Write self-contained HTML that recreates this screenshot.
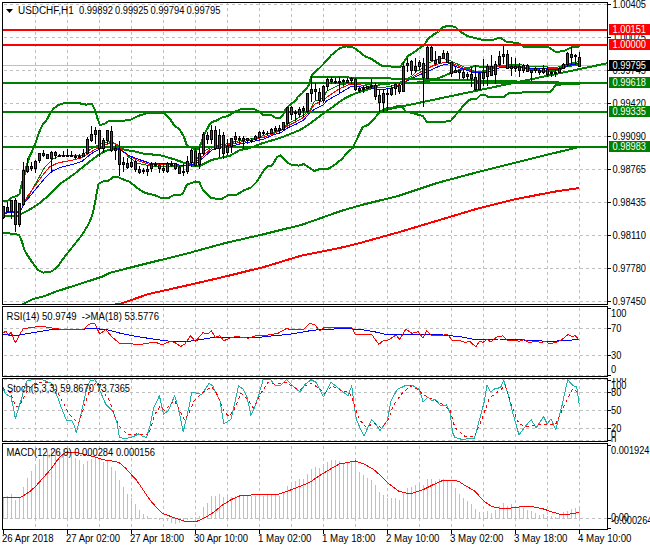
<!DOCTYPE html>
<html><head><meta charset="utf-8"><style>
html,body{margin:0;padding:0;background:#fff;width:650px;height:550px;overflow:hidden}
svg{display:block}
</style></head><body>
<svg width="650" height="550" viewBox="0 0 650 550"><g shape-rendering="crispEdges">
<line x1="35.5" y1="3" x2="35.5" y2="304" stroke="#c0c0c0" stroke-width="1" stroke-dasharray="3 3" stroke-dashoffset="1"/>
<line x1="67.5" y1="3" x2="67.5" y2="304" stroke="#c0c0c0" stroke-width="1" stroke-dasharray="3 3" stroke-dashoffset="1"/>
<line x1="99.5" y1="3" x2="99.5" y2="304" stroke="#c0c0c0" stroke-width="1" stroke-dasharray="3 3" stroke-dashoffset="1"/>
<line x1="131.5" y1="3" x2="131.5" y2="304" stroke="#c0c0c0" stroke-width="1" stroke-dasharray="3 3" stroke-dashoffset="1"/>
<line x1="163.5" y1="3" x2="163.5" y2="304" stroke="#c0c0c0" stroke-width="1" stroke-dasharray="3 3" stroke-dashoffset="1"/>
<line x1="195.5" y1="3" x2="195.5" y2="304" stroke="#c0c0c0" stroke-width="1" stroke-dasharray="3 3" stroke-dashoffset="1"/>
<line x1="227.5" y1="3" x2="227.5" y2="304" stroke="#c0c0c0" stroke-width="1" stroke-dasharray="3 3" stroke-dashoffset="1"/>
<line x1="259.5" y1="3" x2="259.5" y2="304" stroke="#c0c0c0" stroke-width="1" stroke-dasharray="3 3" stroke-dashoffset="1"/>
<line x1="291.5" y1="3" x2="291.5" y2="304" stroke="#c0c0c0" stroke-width="1" stroke-dasharray="3 3" stroke-dashoffset="1"/>
<line x1="323.5" y1="3" x2="323.5" y2="304" stroke="#c0c0c0" stroke-width="1" stroke-dasharray="3 3" stroke-dashoffset="1"/>
<line x1="355.5" y1="3" x2="355.5" y2="304" stroke="#c0c0c0" stroke-width="1" stroke-dasharray="3 3" stroke-dashoffset="1"/>
<line x1="387.5" y1="3" x2="387.5" y2="304" stroke="#c0c0c0" stroke-width="1" stroke-dasharray="3 3" stroke-dashoffset="1"/>
<line x1="419.5" y1="3" x2="419.5" y2="304" stroke="#c0c0c0" stroke-width="1" stroke-dasharray="3 3" stroke-dashoffset="1"/>
<line x1="451.5" y1="3" x2="451.5" y2="304" stroke="#c0c0c0" stroke-width="1" stroke-dasharray="3 3" stroke-dashoffset="1"/>
<line x1="483.5" y1="3" x2="483.5" y2="304" stroke="#c0c0c0" stroke-width="1" stroke-dasharray="3 3" stroke-dashoffset="1"/>
<line x1="515.5" y1="3" x2="515.5" y2="304" stroke="#c0c0c0" stroke-width="1" stroke-dasharray="3 3" stroke-dashoffset="1"/>
<line x1="547.5" y1="3" x2="547.5" y2="304" stroke="#c0c0c0" stroke-width="1" stroke-dasharray="3 3" stroke-dashoffset="1"/>
<line x1="579.5" y1="3" x2="579.5" y2="304" stroke="#c0c0c0" stroke-width="1" stroke-dasharray="3 3" stroke-dashoffset="1"/>
<line x1="35.5" y1="307" x2="35.5" y2="376" stroke="#c0c0c0" stroke-width="1" stroke-dasharray="3 3" stroke-dashoffset="5"/>
<line x1="67.5" y1="307" x2="67.5" y2="376" stroke="#c0c0c0" stroke-width="1" stroke-dasharray="3 3" stroke-dashoffset="5"/>
<line x1="99.5" y1="307" x2="99.5" y2="376" stroke="#c0c0c0" stroke-width="1" stroke-dasharray="3 3" stroke-dashoffset="5"/>
<line x1="131.5" y1="307" x2="131.5" y2="376" stroke="#c0c0c0" stroke-width="1" stroke-dasharray="3 3" stroke-dashoffset="5"/>
<line x1="163.5" y1="307" x2="163.5" y2="376" stroke="#c0c0c0" stroke-width="1" stroke-dasharray="3 3" stroke-dashoffset="5"/>
<line x1="195.5" y1="307" x2="195.5" y2="376" stroke="#c0c0c0" stroke-width="1" stroke-dasharray="3 3" stroke-dashoffset="5"/>
<line x1="227.5" y1="307" x2="227.5" y2="376" stroke="#c0c0c0" stroke-width="1" stroke-dasharray="3 3" stroke-dashoffset="5"/>
<line x1="259.5" y1="307" x2="259.5" y2="376" stroke="#c0c0c0" stroke-width="1" stroke-dasharray="3 3" stroke-dashoffset="5"/>
<line x1="291.5" y1="307" x2="291.5" y2="376" stroke="#c0c0c0" stroke-width="1" stroke-dasharray="3 3" stroke-dashoffset="5"/>
<line x1="323.5" y1="307" x2="323.5" y2="376" stroke="#c0c0c0" stroke-width="1" stroke-dasharray="3 3" stroke-dashoffset="5"/>
<line x1="355.5" y1="307" x2="355.5" y2="376" stroke="#c0c0c0" stroke-width="1" stroke-dasharray="3 3" stroke-dashoffset="5"/>
<line x1="387.5" y1="307" x2="387.5" y2="376" stroke="#c0c0c0" stroke-width="1" stroke-dasharray="3 3" stroke-dashoffset="5"/>
<line x1="419.5" y1="307" x2="419.5" y2="376" stroke="#c0c0c0" stroke-width="1" stroke-dasharray="3 3" stroke-dashoffset="5"/>
<line x1="451.5" y1="307" x2="451.5" y2="376" stroke="#c0c0c0" stroke-width="1" stroke-dasharray="3 3" stroke-dashoffset="5"/>
<line x1="483.5" y1="307" x2="483.5" y2="376" stroke="#c0c0c0" stroke-width="1" stroke-dasharray="3 3" stroke-dashoffset="5"/>
<line x1="515.5" y1="307" x2="515.5" y2="376" stroke="#c0c0c0" stroke-width="1" stroke-dasharray="3 3" stroke-dashoffset="5"/>
<line x1="547.5" y1="307" x2="547.5" y2="376" stroke="#c0c0c0" stroke-width="1" stroke-dasharray="3 3" stroke-dashoffset="5"/>
<line x1="579.5" y1="307" x2="579.5" y2="376" stroke="#c0c0c0" stroke-width="1" stroke-dasharray="3 3" stroke-dashoffset="5"/>
<line x1="35.5" y1="379" x2="35.5" y2="441" stroke="#c0c0c0" stroke-width="1" stroke-dasharray="3 3" stroke-dashoffset="5"/>
<line x1="67.5" y1="379" x2="67.5" y2="441" stroke="#c0c0c0" stroke-width="1" stroke-dasharray="3 3" stroke-dashoffset="5"/>
<line x1="99.5" y1="379" x2="99.5" y2="441" stroke="#c0c0c0" stroke-width="1" stroke-dasharray="3 3" stroke-dashoffset="5"/>
<line x1="131.5" y1="379" x2="131.5" y2="441" stroke="#c0c0c0" stroke-width="1" stroke-dasharray="3 3" stroke-dashoffset="5"/>
<line x1="163.5" y1="379" x2="163.5" y2="441" stroke="#c0c0c0" stroke-width="1" stroke-dasharray="3 3" stroke-dashoffset="5"/>
<line x1="195.5" y1="379" x2="195.5" y2="441" stroke="#c0c0c0" stroke-width="1" stroke-dasharray="3 3" stroke-dashoffset="5"/>
<line x1="227.5" y1="379" x2="227.5" y2="441" stroke="#c0c0c0" stroke-width="1" stroke-dasharray="3 3" stroke-dashoffset="5"/>
<line x1="259.5" y1="379" x2="259.5" y2="441" stroke="#c0c0c0" stroke-width="1" stroke-dasharray="3 3" stroke-dashoffset="5"/>
<line x1="291.5" y1="379" x2="291.5" y2="441" stroke="#c0c0c0" stroke-width="1" stroke-dasharray="3 3" stroke-dashoffset="5"/>
<line x1="323.5" y1="379" x2="323.5" y2="441" stroke="#c0c0c0" stroke-width="1" stroke-dasharray="3 3" stroke-dashoffset="5"/>
<line x1="355.5" y1="379" x2="355.5" y2="441" stroke="#c0c0c0" stroke-width="1" stroke-dasharray="3 3" stroke-dashoffset="5"/>
<line x1="387.5" y1="379" x2="387.5" y2="441" stroke="#c0c0c0" stroke-width="1" stroke-dasharray="3 3" stroke-dashoffset="5"/>
<line x1="419.5" y1="379" x2="419.5" y2="441" stroke="#c0c0c0" stroke-width="1" stroke-dasharray="3 3" stroke-dashoffset="5"/>
<line x1="451.5" y1="379" x2="451.5" y2="441" stroke="#c0c0c0" stroke-width="1" stroke-dasharray="3 3" stroke-dashoffset="5"/>
<line x1="483.5" y1="379" x2="483.5" y2="441" stroke="#c0c0c0" stroke-width="1" stroke-dasharray="3 3" stroke-dashoffset="5"/>
<line x1="515.5" y1="379" x2="515.5" y2="441" stroke="#c0c0c0" stroke-width="1" stroke-dasharray="3 3" stroke-dashoffset="5"/>
<line x1="547.5" y1="379" x2="547.5" y2="441" stroke="#c0c0c0" stroke-width="1" stroke-dasharray="3 3" stroke-dashoffset="5"/>
<line x1="579.5" y1="379" x2="579.5" y2="441" stroke="#c0c0c0" stroke-width="1" stroke-dasharray="3 3" stroke-dashoffset="5"/>
<line x1="35.5" y1="444" x2="35.5" y2="529" stroke="#c0c0c0" stroke-width="1" stroke-dasharray="3 3" stroke-dashoffset="4"/>
<line x1="67.5" y1="444" x2="67.5" y2="529" stroke="#c0c0c0" stroke-width="1" stroke-dasharray="3 3" stroke-dashoffset="4"/>
<line x1="99.5" y1="444" x2="99.5" y2="529" stroke="#c0c0c0" stroke-width="1" stroke-dasharray="3 3" stroke-dashoffset="4"/>
<line x1="131.5" y1="444" x2="131.5" y2="529" stroke="#c0c0c0" stroke-width="1" stroke-dasharray="3 3" stroke-dashoffset="4"/>
<line x1="163.5" y1="444" x2="163.5" y2="529" stroke="#c0c0c0" stroke-width="1" stroke-dasharray="3 3" stroke-dashoffset="4"/>
<line x1="195.5" y1="444" x2="195.5" y2="529" stroke="#c0c0c0" stroke-width="1" stroke-dasharray="3 3" stroke-dashoffset="4"/>
<line x1="227.5" y1="444" x2="227.5" y2="529" stroke="#c0c0c0" stroke-width="1" stroke-dasharray="3 3" stroke-dashoffset="4"/>
<line x1="259.5" y1="444" x2="259.5" y2="529" stroke="#c0c0c0" stroke-width="1" stroke-dasharray="3 3" stroke-dashoffset="4"/>
<line x1="291.5" y1="444" x2="291.5" y2="529" stroke="#c0c0c0" stroke-width="1" stroke-dasharray="3 3" stroke-dashoffset="4"/>
<line x1="323.5" y1="444" x2="323.5" y2="529" stroke="#c0c0c0" stroke-width="1" stroke-dasharray="3 3" stroke-dashoffset="4"/>
<line x1="355.5" y1="444" x2="355.5" y2="529" stroke="#c0c0c0" stroke-width="1" stroke-dasharray="3 3" stroke-dashoffset="4"/>
<line x1="387.5" y1="444" x2="387.5" y2="529" stroke="#c0c0c0" stroke-width="1" stroke-dasharray="3 3" stroke-dashoffset="4"/>
<line x1="419.5" y1="444" x2="419.5" y2="529" stroke="#c0c0c0" stroke-width="1" stroke-dasharray="3 3" stroke-dashoffset="4"/>
<line x1="451.5" y1="444" x2="451.5" y2="529" stroke="#c0c0c0" stroke-width="1" stroke-dasharray="3 3" stroke-dashoffset="4"/>
<line x1="483.5" y1="444" x2="483.5" y2="529" stroke="#c0c0c0" stroke-width="1" stroke-dasharray="3 3" stroke-dashoffset="4"/>
<line x1="515.5" y1="444" x2="515.5" y2="529" stroke="#c0c0c0" stroke-width="1" stroke-dasharray="3 3" stroke-dashoffset="4"/>
<line x1="547.5" y1="444" x2="547.5" y2="529" stroke="#c0c0c0" stroke-width="1" stroke-dasharray="3 3" stroke-dashoffset="4"/>
<line x1="579.5" y1="444" x2="579.5" y2="529" stroke="#c0c0c0" stroke-width="1" stroke-dasharray="3 3" stroke-dashoffset="4"/>
<line x1="4" y1="4.5" x2="607" y2="4.5" stroke="#c0c0c0" stroke-width="1" stroke-dasharray="3 3"/>
<line x1="4" y1="37.5" x2="607" y2="37.5" stroke="#c0c0c0" stroke-width="1" stroke-dasharray="3 3"/>
<line x1="4" y1="70.5" x2="607" y2="70.5" stroke="#c0c0c0" stroke-width="1" stroke-dasharray="3 3"/>
<line x1="4" y1="103.5" x2="607" y2="103.5" stroke="#c0c0c0" stroke-width="1" stroke-dasharray="3 3"/>
<line x1="4" y1="136.5" x2="607" y2="136.5" stroke="#c0c0c0" stroke-width="1" stroke-dasharray="3 3"/>
<line x1="4" y1="169.5" x2="607" y2="169.5" stroke="#c0c0c0" stroke-width="1" stroke-dasharray="3 3"/>
<line x1="4" y1="202.5" x2="607" y2="202.5" stroke="#c0c0c0" stroke-width="1" stroke-dasharray="3 3"/>
<line x1="4" y1="235.5" x2="607" y2="235.5" stroke="#c0c0c0" stroke-width="1" stroke-dasharray="3 3"/>
<line x1="4" y1="268.5" x2="607" y2="268.5" stroke="#c0c0c0" stroke-width="1" stroke-dasharray="3 3"/>
<line x1="4" y1="301.5" x2="607" y2="301.5" stroke="#c0c0c0" stroke-width="1" stroke-dasharray="3 3"/>
<line x1="4" y1="328.5" x2="607" y2="328.5" stroke="#c0c0c0" stroke-width="1" stroke-dasharray="3 3"/>
<line x1="4" y1="355.5" x2="607" y2="355.5" stroke="#c0c0c0" stroke-width="1" stroke-dasharray="3 3"/>
<line x1="4" y1="375.5" x2="607" y2="375.5" stroke="#c0c0c0" stroke-width="1" stroke-dasharray="3 3"/>
<line x1="4" y1="379.5" x2="607" y2="379.5" stroke="#c0c0c0" stroke-width="1" stroke-dasharray="3 3"/>
<line x1="4" y1="392.5" x2="607" y2="392.5" stroke="#c0c0c0" stroke-width="1" stroke-dasharray="3 3"/>
<line x1="4" y1="410.5" x2="607" y2="410.5" stroke="#c0c0c0" stroke-width="1" stroke-dasharray="3 3"/>
<line x1="4" y1="428.5" x2="607" y2="428.5" stroke="#c0c0c0" stroke-width="1" stroke-dasharray="3 3"/>
<line x1="4" y1="440.5" x2="607" y2="440.5" stroke="#c0c0c0" stroke-width="1" stroke-dasharray="3 3"/>
<line x1="4" y1="518.5" x2="607" y2="518.5" stroke="#c0c0c0" stroke-width="1" stroke-dasharray="3 3"/>
</g>
<defs><clipPath id="cmain"><rect x="3" y="3" width="604" height="301"/></clipPath></defs><g clip-path="url(#cmain)">
<g shape-rendering="crispEdges">
<rect x="3" y="65" width="604" height="1" fill="#c0c0c0"/>
</g>
<g>
<polyline points="22,304.6 33,299 43.5,296.4 56,291.6 67,288 79.5,284 92,280 103,276.4 110,272.7 148.5,263 187,253.5 225.4,243 263.8,234.2 302.3,224.6 340.8,211 360,205.4 398.5,195.8 437,183 475.4,172.7 513.8,163 552.3,153.5 579.2,147" fill="none" stroke="#008000" stroke-width="2" stroke-linejoin="round" shape-rendering="crispEdges"/>
<polyline points="114,304.6 121.5,303.5 148.5,294 187,285.4 225.4,276.5 263.8,267 302.3,255.4 340.8,247.7 360,243 398.5,232.3 437,220.8 475.4,209.2 513.8,199.6 552.3,192 579.2,188" fill="none" stroke="#ff0000" stroke-width="2" stroke-linejoin="round" shape-rendering="crispEdges"/>
<polyline points="3,201 8,200.5 11,198 15,196.5 18.5,195 19.7,193.7 20.2,190.4 21.3,186 21.8,182.8 23.5,178.4 25.1,173 26.7,165.3 29.5,156.5 30.5,154.5 34.3,146.3 37,138.7 39.2,132.1 42.5,125 46.8,119.6 50.1,113.6 53.4,108.6 57.8,105.4 64.3,102.9 75,102.9 80,103.4 86,104.6 92,104 95,110 98,120 100,125 104,124 109,121 120,121 130,120 138,116 148,113 164,113 170,119 174,125 180,130 184,137 187,145.8 191.8,147.7 195,150 198,149 200.5,144.6 204,134.8 210,123.7 212.8,121.8 217.7,120 220.8,117.9 226.3,116.5 230,114.8 235,111.7 241,109.2 248.5,108.6 254.6,109.2 259.5,111.7 263,114.8 271.8,115.4 275.5,117.8 280.5,117.8 283,115.4 285.4,109.8 289,105.5 294,101.8 296.5,100 297.4,97 302.3,93.2 308.5,85.8 311.5,76 314.6,72.3 319.5,68 323.8,63.7 327,60 331.4,55 340,48 346,46.4 352,47 356,49 362,54 366,57 370,58 376,62 382,66 400,67 403,63 408,56 416,51 420,47.7 424.6,44.6 427.7,39.2 432.3,35.4 438.5,31.5 443,27 449.2,25.8 455.4,27 460,31.5 467.7,36.2 473.8,37.7 481.5,39.7 492.3,40 500,37.7 506,41.5 512.3,42.3 520,43.8 524,47 548,47 556,52 564,51 572,47 580,46.4" fill="none" stroke="#008000" stroke-width="2" stroke-linejoin="round" shape-rendering="crispEdges"/>
<polyline points="3,232.8 9,232.8 11,234 15,234 19,235 21,239 23,245 24.5,250 26,253 32,262 38,270 43,272.6 52,271.4 58,266 66,255 74,245 82,235 88,225 90,220.8 93,213 98.5,183.8 104,181 108.5,180.8 113,177 117.7,177 122.3,179 130,182 136,187 143.8,192.3 148.5,193.8 154.6,195 162.3,198.5 168.5,198 174.6,194.6 180,195.4 183,193 187,184.6 191.5,183 195.4,181.5 199.2,182 203,190 210.8,197.7 217,199 221.5,199 227.7,195.4 237,194.6 244.6,190 250.8,187.7 257,181.5 263,171.5 267.7,166 272.3,165.4 277,157 280,155.4 281,155.6 288,163 292,165 299,165.6 304,164 314,171 320,169 328,169 336,164 342.3,158.5 347,153 353,147.7 355,143 362.7,127 368.8,124.6 375,117.7 380.4,111.5 385.8,108.5 392,107.7 398,106 401,106 405.8,111.5 415,113.8 422.7,116 427.3,122.3 435,122.3 440,122.3 450.8,120.8 458.5,111.5 467.7,100.8 472.3,98.5 477,98.5 480,95.4 486,95.4 489.2,97.4 503,97.4 508.5,93.4 520,93.4 524.6,91.5 540,91.5 551,91.5 556,84.8 565.7,84.2 580,84.2" fill="none" stroke="#008000" stroke-width="2" stroke-linejoin="round" shape-rendering="crispEdges"/>
<polyline points="3,215.5 19,215.5 20,214.7 31,208.8 40.2,202.6 51,193.4 60,184 73.9,174.3 87.7,163.2 97.4,155.6 105.7,150.8 112.6,149.4 119.6,148.7 126.5,150 134.8,151.5 143.1,153.5 150,154.2 162.3,155.7 174.6,159.4 184.5,163 190.6,165.5 199.2,166.2 204,163.7 211.5,160 219,158.2 230,155.7 240,150 250,148 260,144 280,138 300,130 308.5,124.6 320.8,115.4 333,106.8 343,99.4 351.5,95 359,92 370,89 380,84.5 390,83.5 404,82.5 417,82.5 430,80.5 439,78 450.8,73 460,70 469.2,67.7 473.8,66.2 486,67 500,66.2 512.3,65.4 520,66.5 530,70 545,70.8 555,70.5 561.4,69 565.2,66.7 569,65.7 574,65.4 579.8,65.4" fill="none" stroke="#008000" stroke-width="2" stroke-linejoin="round" shape-rendering="crispEdges"/>
<polyline points="23.2,204.2 29.4,195 37,181 44.8,167 52.6,159.4 60,155.6 82.2,155 90.5,149.4 98.8,144.5 108.5,141.8 115.4,143.2 119.6,147 129.2,157.7 137.6,163.2 150,166 154,167 170,166 184,166 194,162 204,151 214,146 232,143 233.7,141.8 254.6,138.2 273,132.6 281.7,129 287.8,124 296.5,119 304,114.8 310,109.8 314.6,101.2 323,98.2 327,90.8 339,85.2 349,83.4 355,82.8 370,84.6 380,88 392,86 404,80 411.5,76.3 416.5,71.2 420,70 429.2,63 437,59.2 443,58.5 450.8,60.8 457,63.8 466,67.7 475.4,71.5 484.6,70.8 497,66.2 512.3,64.6 520,64.6 530,66.5 548,67 556,68 563,65 574,62.2 579,61.9" fill="none" stroke="#008000" stroke-width="1" stroke-linejoin="round" shape-rendering="crispEdges"/>
<polyline points="3,213 10,211 19,211 21.6,208.8 26.3,198 34,187.2 41.7,176.4 49.5,167 58.7,162.5 60,162.5 73.9,159.8 82.2,157.7 90.5,152.2 98.8,147.3 108.5,143.9 115.4,143.9 119.6,148 129.2,156.3 137.6,160.5 150,164.6 164,164 180,166 192,165 204,155 212,148 224,146 233.7,143.7 244.8,141.2 254.6,139.4 264.5,137 273,133.8 281.7,130.2 287.8,125.8 296.5,121.5 304,117.2 310,111 314.6,104.3 323,100.6 327,97 339,89 349,84.6 355,84 370,86.5 380,90 392,88 404,82 412.7,77 420,72.3 429.2,67.7 435.4,64.6 444.6,62.3 449.2,62.3 457,65.4 466,69.2 475.4,72.3 484.6,71.5 497,67 506,66.2 520,66.2 530,68 548,68.3 556,69 563,66.5 571,64.1 579,63" fill="none" stroke="#ff0000" stroke-width="1" stroke-linejoin="round" shape-rendering="crispEdges"/>
<polyline points="3,214 10,212 19,212 20,212 24.7,202.6 31,195 38.6,185.6 46.4,176.4 52.6,171 60,167.4 73.9,164 82.2,161.2 90.5,154.2 98.8,149.4 108.5,146 115.4,146 119.6,149.4 129.2,155.6 137.6,159 150,163.2 160,163 174,164 184,166 196,164 204,157 212,150 220,148 232,145 233.7,145.5 244.8,143 254.6,141.2 264.5,138.8 273,135 281.7,132 287.8,127.7 296.5,124 304,119.7 310,112.3 314.6,109.2 323,105 327,100.6 339,93.8 350.3,87 355,86.5 370,87.7 380,90 392,88 404,84 407.6,80.7 412.7,78.2 420,74.6 429.2,70.8 435.4,67.7 444.6,64.6 449.2,63.8 457,67 466,70 475.4,73 484.6,72.3 492.3,71.5 500,67.7 506,67 520,67.7 530,68.8 548,69 556,70 563,67.5 567.7,66 572,64.5 579,63.5" fill="none" stroke="#0000ff" stroke-width="1" stroke-linejoin="round" shape-rendering="crispEdges"/>
</g>
<g shape-rendering="crispEdges">
<rect x="3" y="29" width="604" height="2" fill="#ff0000"/>
<rect x="3" y="44" width="604" height="2" fill="#ff0000"/>
<rect x="3" y="82" width="604" height="2" fill="#008000"/>
<rect x="3" y="111" width="604" height="2" fill="#008000"/>
<rect x="3" y="146" width="604" height="2" fill="#008000"/>
</g>
<polyline points="380,111 607,63.3" fill="none" stroke="#008000" stroke-width="2" stroke-linejoin="round" shape-rendering="crispEdges"/>
<polyline points="311,76.6 580,83" fill="none" stroke="#008000" stroke-width="2" stroke-linejoin="round" shape-rendering="crispEdges"/>
<g shape-rendering="crispEdges">
<rect x="3" y="206" width="1" height="13" fill="#000"/>
<rect x="2" y="206" width="3" height="12" fill="#000"/>
<rect x="3" y="207" width="1" height="10" fill="#008000"/>
<rect x="7" y="202" width="1" height="11" fill="#000"/>
<rect x="6" y="207" width="3" height="5" fill="#000"/>
<rect x="7" y="208" width="1" height="3" fill="#ff0000"/>
<rect x="11" y="200" width="1" height="19" fill="#000"/>
<rect x="10" y="200" width="3" height="12" fill="#000"/>
<rect x="11" y="201" width="1" height="10" fill="#008000"/>
<rect x="15" y="198" width="1" height="34" fill="#000"/>
<rect x="14" y="200" width="3" height="25" fill="#000"/>
<rect x="15" y="201" width="1" height="23" fill="#ff0000"/>
<rect x="19" y="203" width="1" height="24" fill="#000"/>
<rect x="18" y="203" width="3" height="22" fill="#000"/>
<rect x="19" y="204" width="1" height="20" fill="#008000"/>
<rect x="23" y="162" width="1" height="44" fill="#000"/>
<rect x="22" y="170" width="3" height="35" fill="#000"/>
<rect x="23" y="171" width="1" height="33" fill="#008000"/>
<rect x="27" y="158" width="1" height="15" fill="#000"/>
<rect x="26" y="166" width="3" height="6" fill="#000"/>
<rect x="27" y="167" width="1" height="4" fill="#008000"/>
<rect x="31" y="162" width="1" height="9" fill="#000"/>
<rect x="30" y="166" width="3" height="3" fill="#000"/>
<rect x="31" y="167" width="1" height="1" fill="#008000"/>
<rect x="35" y="160" width="1" height="13" fill="#000"/>
<rect x="34" y="161" width="3" height="8" fill="#000"/>
<rect x="35" y="162" width="1" height="6" fill="#008000"/>
<rect x="39" y="153" width="1" height="10" fill="#000"/>
<rect x="38" y="153" width="3" height="8" fill="#000"/>
<rect x="39" y="154" width="1" height="6" fill="#008000"/>
<rect x="43" y="150" width="1" height="7" fill="#000"/>
<rect x="42" y="153" width="3" height="3" fill="#000"/>
<rect x="43" y="154" width="1" height="1" fill="#008000"/>
<rect x="47" y="154" width="1" height="5" fill="#000"/>
<rect x="46" y="154" width="3" height="5" fill="#000"/>
<rect x="47" y="155" width="1" height="3" fill="#ff0000"/>
<rect x="51" y="151" width="1" height="22" fill="#000"/>
<rect x="50" y="152" width="3" height="7" fill="#000"/>
<rect x="51" y="153" width="1" height="5" fill="#008000"/>
<rect x="55" y="151" width="1" height="8" fill="#000"/>
<rect x="54" y="152" width="3" height="4" fill="#000"/>
<rect x="55" y="153" width="1" height="2" fill="#ff0000"/>
<rect x="59" y="154" width="1" height="3" fill="#000"/>
<rect x="58" y="155" width="3" height="2" fill="#000"/>
<rect x="63" y="151" width="1" height="6" fill="#000"/>
<rect x="62" y="155" width="3" height="2" fill="#000"/>
<rect x="67" y="149" width="1" height="8" fill="#000"/>
<rect x="66" y="155" width="3" height="2" fill="#000"/>
<rect x="71" y="151" width="1" height="6" fill="#000"/>
<rect x="70" y="155" width="3" height="2" fill="#000"/>
<rect x="75" y="154" width="1" height="5" fill="#000"/>
<rect x="74" y="156" width="3" height="2" fill="#000"/>
<rect x="79" y="154" width="1" height="5" fill="#000"/>
<rect x="78" y="156" width="3" height="2" fill="#000"/>
<rect x="83" y="149" width="1" height="8" fill="#000"/>
<rect x="82" y="153" width="3" height="4" fill="#000"/>
<rect x="83" y="154" width="1" height="2" fill="#008000"/>
<rect x="87" y="137" width="1" height="17" fill="#000"/>
<rect x="86" y="139" width="3" height="15" fill="#000"/>
<rect x="87" y="140" width="1" height="13" fill="#008000"/>
<rect x="91" y="126" width="1" height="16" fill="#000"/>
<rect x="90" y="134" width="3" height="7" fill="#000"/>
<rect x="91" y="135" width="1" height="5" fill="#008000"/>
<rect x="95" y="127" width="1" height="17" fill="#000"/>
<rect x="94" y="130" width="3" height="5" fill="#000"/>
<rect x="95" y="131" width="1" height="3" fill="#008000"/>
<rect x="99" y="130" width="1" height="27" fill="#000"/>
<rect x="98" y="130" width="3" height="19" fill="#000"/>
<rect x="99" y="131" width="1" height="17" fill="#ff0000"/>
<rect x="103" y="138" width="1" height="15" fill="#000"/>
<rect x="102" y="140" width="3" height="9" fill="#000"/>
<rect x="103" y="141" width="1" height="7" fill="#008000"/>
<rect x="107" y="130" width="1" height="14" fill="#000"/>
<rect x="106" y="130" width="3" height="11" fill="#000"/>
<rect x="107" y="131" width="1" height="9" fill="#008000"/>
<rect x="111" y="126" width="1" height="26" fill="#000"/>
<rect x="110" y="131" width="3" height="20" fill="#000"/>
<rect x="111" y="132" width="1" height="18" fill="#ff0000"/>
<rect x="115" y="145" width="1" height="15" fill="#000"/>
<rect x="114" y="148" width="3" height="3" fill="#000"/>
<rect x="115" y="149" width="1" height="1" fill="#008000"/>
<rect x="119" y="141" width="1" height="35" fill="#000"/>
<rect x="118" y="149" width="3" height="16" fill="#000"/>
<rect x="119" y="150" width="1" height="14" fill="#ff0000"/>
<rect x="123" y="157" width="1" height="15" fill="#000"/>
<rect x="122" y="162" width="3" height="3" fill="#000"/>
<rect x="123" y="163" width="1" height="1" fill="#008000"/>
<rect x="127" y="158" width="1" height="11" fill="#000"/>
<rect x="126" y="163" width="3" height="5" fill="#000"/>
<rect x="127" y="164" width="1" height="3" fill="#ff0000"/>
<rect x="131" y="156" width="1" height="12" fill="#000"/>
<rect x="130" y="162" width="3" height="5" fill="#000"/>
<rect x="131" y="163" width="1" height="3" fill="#008000"/>
<rect x="135" y="160" width="1" height="12" fill="#000"/>
<rect x="134" y="161" width="3" height="9" fill="#000"/>
<rect x="135" y="162" width="1" height="7" fill="#ff0000"/>
<rect x="139" y="166" width="1" height="8" fill="#000"/>
<rect x="138" y="169" width="3" height="4" fill="#000"/>
<rect x="139" y="170" width="1" height="2" fill="#ff0000"/>
<rect x="143" y="168" width="1" height="6" fill="#000"/>
<rect x="142" y="170" width="3" height="2" fill="#000"/>
<rect x="147" y="165" width="1" height="11" fill="#000"/>
<rect x="146" y="169" width="3" height="3" fill="#000"/>
<rect x="147" y="170" width="1" height="1" fill="#008000"/>
<rect x="151" y="162" width="1" height="10" fill="#000"/>
<rect x="150" y="164" width="3" height="5" fill="#000"/>
<rect x="151" y="165" width="1" height="3" fill="#008000"/>
<rect x="155" y="162" width="1" height="5" fill="#000"/>
<rect x="154" y="164" width="3" height="2" fill="#000"/>
<rect x="159" y="163" width="1" height="10" fill="#000"/>
<rect x="158" y="165" width="3" height="4" fill="#000"/>
<rect x="159" y="166" width="1" height="2" fill="#ff0000"/>
<rect x="163" y="163" width="1" height="10" fill="#000"/>
<rect x="162" y="168" width="3" height="3" fill="#000"/>
<rect x="163" y="169" width="1" height="1" fill="#008000"/>
<rect x="167" y="162" width="1" height="11" fill="#000"/>
<rect x="166" y="163" width="3" height="9" fill="#000"/>
<rect x="167" y="164" width="1" height="7" fill="#008000"/>
<rect x="171" y="161" width="1" height="6" fill="#000"/>
<rect x="170" y="164" width="3" height="2" fill="#000"/>
<rect x="175" y="163" width="1" height="7" fill="#000"/>
<rect x="174" y="163" width="3" height="6" fill="#000"/>
<rect x="175" y="164" width="1" height="4" fill="#ff0000"/>
<rect x="179" y="166" width="1" height="8" fill="#000"/>
<rect x="178" y="167" width="3" height="7" fill="#000"/>
<rect x="179" y="168" width="1" height="5" fill="#ff0000"/>
<rect x="183" y="164" width="1" height="12" fill="#000"/>
<rect x="182" y="171" width="3" height="2" fill="#000"/>
<rect x="187" y="156" width="1" height="18" fill="#000"/>
<rect x="186" y="161" width="3" height="11" fill="#000"/>
<rect x="187" y="162" width="1" height="9" fill="#008000"/>
<rect x="191" y="149" width="1" height="18" fill="#000"/>
<rect x="190" y="150" width="3" height="13" fill="#000"/>
<rect x="191" y="151" width="1" height="11" fill="#008000"/>
<rect x="195" y="148" width="1" height="19" fill="#000"/>
<rect x="194" y="151" width="3" height="15" fill="#000"/>
<rect x="195" y="152" width="1" height="13" fill="#ff0000"/>
<rect x="199" y="147" width="1" height="22" fill="#000"/>
<rect x="198" y="153" width="3" height="12" fill="#000"/>
<rect x="199" y="154" width="1" height="10" fill="#008000"/>
<rect x="203" y="132" width="1" height="24" fill="#000"/>
<rect x="202" y="134" width="3" height="20" fill="#000"/>
<rect x="203" y="135" width="1" height="18" fill="#008000"/>
<rect x="207" y="132" width="1" height="12" fill="#000"/>
<rect x="206" y="135" width="3" height="5" fill="#000"/>
<rect x="207" y="136" width="1" height="3" fill="#ff0000"/>
<rect x="211" y="125" width="1" height="19" fill="#000"/>
<rect x="210" y="130" width="3" height="10" fill="#000"/>
<rect x="211" y="131" width="1" height="8" fill="#008000"/>
<rect x="215" y="126" width="1" height="24" fill="#000"/>
<rect x="214" y="130" width="3" height="19" fill="#000"/>
<rect x="215" y="131" width="1" height="17" fill="#ff0000"/>
<rect x="219" y="129" width="1" height="28" fill="#000"/>
<rect x="218" y="135" width="3" height="14" fill="#000"/>
<rect x="219" y="136" width="1" height="12" fill="#008000"/>
<rect x="223" y="132" width="1" height="27" fill="#000"/>
<rect x="222" y="135" width="3" height="19" fill="#000"/>
<rect x="223" y="136" width="1" height="17" fill="#ff0000"/>
<rect x="227" y="139" width="1" height="16" fill="#000"/>
<rect x="226" y="146" width="3" height="7" fill="#000"/>
<rect x="227" y="147" width="1" height="5" fill="#008000"/>
<rect x="231" y="138" width="1" height="15" fill="#000"/>
<rect x="230" y="138" width="3" height="9" fill="#000"/>
<rect x="231" y="139" width="1" height="7" fill="#008000"/>
<rect x="235" y="132" width="1" height="12" fill="#000"/>
<rect x="234" y="136" width="3" height="4" fill="#000"/>
<rect x="235" y="137" width="1" height="2" fill="#008000"/>
<rect x="239" y="136" width="1" height="8" fill="#000"/>
<rect x="238" y="138" width="3" height="2" fill="#000"/>
<rect x="243" y="136" width="1" height="13" fill="#000"/>
<rect x="242" y="138" width="3" height="3" fill="#000"/>
<rect x="243" y="139" width="1" height="1" fill="#ff0000"/>
<rect x="247" y="138" width="1" height="6" fill="#000"/>
<rect x="246" y="138" width="3" height="3" fill="#000"/>
<rect x="247" y="139" width="1" height="1" fill="#008000"/>
<rect x="251" y="138" width="1" height="5" fill="#000"/>
<rect x="250" y="140" width="3" height="2" fill="#000"/>
<rect x="255" y="135" width="1" height="6" fill="#000"/>
<rect x="254" y="136" width="3" height="4" fill="#000"/>
<rect x="255" y="137" width="1" height="2" fill="#008000"/>
<rect x="259" y="131" width="1" height="7" fill="#000"/>
<rect x="258" y="132" width="3" height="6" fill="#000"/>
<rect x="259" y="133" width="1" height="4" fill="#008000"/>
<rect x="263" y="130" width="1" height="5" fill="#000"/>
<rect x="262" y="132" width="3" height="2" fill="#000"/>
<rect x="267" y="131" width="1" height="5" fill="#000"/>
<rect x="266" y="133" width="3" height="1" fill="#000"/>
<rect x="271" y="128" width="1" height="6" fill="#000"/>
<rect x="270" y="129" width="3" height="5" fill="#000"/>
<rect x="271" y="130" width="1" height="3" fill="#008000"/>
<rect x="275" y="126" width="1" height="6" fill="#000"/>
<rect x="274" y="128" width="3" height="3" fill="#000"/>
<rect x="275" y="129" width="1" height="1" fill="#008000"/>
<rect x="279" y="125" width="1" height="9" fill="#000"/>
<rect x="278" y="128" width="3" height="3" fill="#000"/>
<rect x="279" y="129" width="1" height="1" fill="#008000"/>
<rect x="283" y="122" width="1" height="9" fill="#000"/>
<rect x="282" y="122" width="3" height="8" fill="#000"/>
<rect x="283" y="123" width="1" height="6" fill="#008000"/>
<rect x="287" y="107" width="1" height="18" fill="#000"/>
<rect x="286" y="107" width="3" height="17" fill="#000"/>
<rect x="287" y="108" width="1" height="15" fill="#008000"/>
<rect x="291" y="106" width="1" height="14" fill="#000"/>
<rect x="290" y="107" width="3" height="8" fill="#000"/>
<rect x="291" y="108" width="1" height="6" fill="#ff0000"/>
<rect x="295" y="110" width="1" height="11" fill="#000"/>
<rect x="294" y="112" width="3" height="2" fill="#000"/>
<rect x="299" y="107" width="1" height="10" fill="#000"/>
<rect x="298" y="109" width="3" height="6" fill="#000"/>
<rect x="299" y="110" width="1" height="4" fill="#008000"/>
<rect x="303" y="106" width="1" height="11" fill="#000"/>
<rect x="302" y="108" width="3" height="3" fill="#000"/>
<rect x="303" y="109" width="1" height="1" fill="#008000"/>
<rect x="307" y="93" width="1" height="20" fill="#000"/>
<rect x="306" y="93" width="3" height="19" fill="#000"/>
<rect x="307" y="94" width="1" height="17" fill="#008000"/>
<rect x="311" y="76" width="1" height="26" fill="#000"/>
<rect x="310" y="89" width="3" height="5" fill="#000"/>
<rect x="311" y="90" width="1" height="3" fill="#008000"/>
<rect x="315" y="83" width="1" height="17" fill="#000"/>
<rect x="314" y="89" width="3" height="3" fill="#000"/>
<rect x="315" y="90" width="1" height="1" fill="#ff0000"/>
<rect x="319" y="88" width="1" height="17" fill="#000"/>
<rect x="318" y="92" width="3" height="9" fill="#000"/>
<rect x="319" y="93" width="1" height="7" fill="#ff0000"/>
<rect x="323" y="85" width="1" height="18" fill="#000"/>
<rect x="322" y="86" width="3" height="15" fill="#000"/>
<rect x="323" y="87" width="1" height="13" fill="#008000"/>
<rect x="327" y="78" width="1" height="13" fill="#000"/>
<rect x="326" y="79" width="3" height="8" fill="#000"/>
<rect x="327" y="80" width="1" height="6" fill="#008000"/>
<rect x="331" y="77" width="1" height="7" fill="#000"/>
<rect x="330" y="79" width="3" height="3" fill="#000"/>
<rect x="331" y="80" width="1" height="1" fill="#ff0000"/>
<rect x="335" y="78" width="1" height="6" fill="#000"/>
<rect x="334" y="81" width="3" height="2" fill="#000"/>
<rect x="339" y="77" width="1" height="17" fill="#000"/>
<rect x="338" y="81" width="3" height="2" fill="#000"/>
<rect x="343" y="79" width="1" height="7" fill="#000"/>
<rect x="342" y="80" width="3" height="2" fill="#000"/>
<rect x="347" y="78" width="1" height="5" fill="#000"/>
<rect x="346" y="80" width="3" height="3" fill="#000"/>
<rect x="347" y="81" width="1" height="1" fill="#008000"/>
<rect x="351" y="77" width="1" height="7" fill="#000"/>
<rect x="350" y="78" width="3" height="3" fill="#000"/>
<rect x="351" y="79" width="1" height="1" fill="#008000"/>
<rect x="355" y="78" width="1" height="13" fill="#000"/>
<rect x="354" y="79" width="3" height="11" fill="#000"/>
<rect x="355" y="80" width="1" height="9" fill="#ff0000"/>
<rect x="359" y="87" width="1" height="6" fill="#000"/>
<rect x="358" y="88" width="3" height="3" fill="#000"/>
<rect x="359" y="89" width="1" height="1" fill="#008000"/>
<rect x="363" y="86" width="1" height="7" fill="#000"/>
<rect x="362" y="88" width="3" height="2" fill="#000"/>
<rect x="367" y="86" width="1" height="3" fill="#000"/>
<rect x="366" y="86" width="3" height="3" fill="#000"/>
<rect x="367" y="87" width="1" height="1" fill="#008000"/>
<rect x="371" y="79" width="1" height="10" fill="#000"/>
<rect x="370" y="85" width="3" height="2" fill="#000"/>
<rect x="375" y="83" width="1" height="17" fill="#000"/>
<rect x="374" y="85" width="3" height="12" fill="#000"/>
<rect x="375" y="86" width="1" height="10" fill="#ff0000"/>
<rect x="379" y="90" width="1" height="22" fill="#000"/>
<rect x="378" y="95" width="3" height="8" fill="#000"/>
<rect x="379" y="96" width="1" height="6" fill="#ff0000"/>
<rect x="383" y="89" width="1" height="23" fill="#000"/>
<rect x="382" y="93" width="3" height="10" fill="#000"/>
<rect x="383" y="94" width="1" height="8" fill="#008000"/>
<rect x="387" y="88" width="1" height="23" fill="#000"/>
<rect x="386" y="93" width="3" height="2" fill="#000"/>
<rect x="391" y="85" width="1" height="11" fill="#000"/>
<rect x="390" y="88" width="3" height="7" fill="#000"/>
<rect x="391" y="89" width="1" height="5" fill="#008000"/>
<rect x="395" y="83" width="1" height="12" fill="#000"/>
<rect x="394" y="84" width="3" height="5" fill="#000"/>
<rect x="395" y="85" width="1" height="3" fill="#008000"/>
<rect x="399" y="83" width="1" height="11" fill="#000"/>
<rect x="398" y="85" width="3" height="7" fill="#000"/>
<rect x="399" y="86" width="1" height="5" fill="#ff0000"/>
<rect x="403" y="62" width="1" height="30" fill="#000"/>
<rect x="402" y="66" width="3" height="26" fill="#000"/>
<rect x="403" y="67" width="1" height="24" fill="#008000"/>
<rect x="407" y="58" width="1" height="14" fill="#000"/>
<rect x="406" y="63" width="3" height="3" fill="#000"/>
<rect x="407" y="64" width="1" height="1" fill="#008000"/>
<rect x="411" y="60" width="1" height="15" fill="#000"/>
<rect x="410" y="61" width="3" height="10" fill="#000"/>
<rect x="411" y="62" width="1" height="8" fill="#ff0000"/>
<rect x="415" y="58" width="1" height="15" fill="#000"/>
<rect x="414" y="66" width="3" height="5" fill="#000"/>
<rect x="415" y="67" width="1" height="3" fill="#008000"/>
<rect x="419" y="60" width="1" height="10" fill="#000"/>
<rect x="418" y="62" width="3" height="5" fill="#000"/>
<rect x="419" y="63" width="1" height="3" fill="#008000"/>
<rect x="427" y="46" width="1" height="33" fill="#000"/>
<rect x="426" y="47" width="3" height="32" fill="#000"/>
<rect x="427" y="48" width="1" height="30" fill="#008000"/>
<rect x="431" y="46" width="1" height="15" fill="#000"/>
<rect x="430" y="47" width="3" height="14" fill="#000"/>
<rect x="431" y="48" width="1" height="12" fill="#ff0000"/>
<rect x="435" y="51" width="1" height="15" fill="#000"/>
<rect x="434" y="60" width="3" height="4" fill="#000"/>
<rect x="435" y="61" width="1" height="2" fill="#ff0000"/>
<rect x="439" y="56" width="1" height="8" fill="#000"/>
<rect x="438" y="56" width="3" height="7" fill="#000"/>
<rect x="439" y="57" width="1" height="5" fill="#008000"/>
<rect x="443" y="50" width="1" height="9" fill="#000"/>
<rect x="442" y="53" width="3" height="6" fill="#000"/>
<rect x="443" y="54" width="1" height="4" fill="#008000"/>
<rect x="447" y="51" width="1" height="12" fill="#000"/>
<rect x="446" y="53" width="3" height="10" fill="#000"/>
<rect x="447" y="54" width="1" height="8" fill="#ff0000"/>
<rect x="451" y="62" width="1" height="15" fill="#000"/>
<rect x="450" y="62" width="3" height="12" fill="#000"/>
<rect x="451" y="63" width="1" height="10" fill="#ff0000"/>
<rect x="455" y="66" width="1" height="7" fill="#000"/>
<rect x="454" y="70" width="3" height="3" fill="#000"/>
<rect x="455" y="71" width="1" height="1" fill="#008000"/>
<rect x="459" y="70" width="1" height="9" fill="#000"/>
<rect x="458" y="70" width="3" height="3" fill="#000"/>
<rect x="459" y="71" width="1" height="1" fill="#ff0000"/>
<rect x="463" y="70" width="1" height="9" fill="#000"/>
<rect x="462" y="72" width="3" height="6" fill="#000"/>
<rect x="463" y="73" width="1" height="4" fill="#ff0000"/>
<rect x="467" y="72" width="1" height="8" fill="#000"/>
<rect x="466" y="74" width="3" height="3" fill="#000"/>
<rect x="467" y="75" width="1" height="1" fill="#008000"/>
<rect x="471" y="67" width="1" height="20" fill="#000"/>
<rect x="470" y="74" width="3" height="5" fill="#000"/>
<rect x="471" y="75" width="1" height="3" fill="#ff0000"/>
<rect x="475" y="65" width="1" height="26" fill="#000"/>
<rect x="474" y="77" width="3" height="13" fill="#000"/>
<rect x="475" y="78" width="1" height="11" fill="#ff0000"/>
<rect x="479" y="72" width="1" height="18" fill="#000"/>
<rect x="478" y="73" width="3" height="17" fill="#000"/>
<rect x="479" y="74" width="1" height="15" fill="#008000"/>
<rect x="483" y="59" width="1" height="27" fill="#000"/>
<rect x="482" y="72" width="3" height="7" fill="#000"/>
<rect x="483" y="73" width="1" height="5" fill="#ff0000"/>
<rect x="487" y="64" width="1" height="22" fill="#000"/>
<rect x="486" y="66" width="3" height="11" fill="#000"/>
<rect x="487" y="67" width="1" height="9" fill="#008000"/>
<rect x="491" y="55" width="1" height="21" fill="#000"/>
<rect x="490" y="66" width="3" height="10" fill="#000"/>
<rect x="491" y="67" width="1" height="8" fill="#ff0000"/>
<rect x="495" y="61" width="1" height="23" fill="#000"/>
<rect x="494" y="64" width="3" height="11" fill="#000"/>
<rect x="495" y="65" width="1" height="9" fill="#008000"/>
<rect x="499" y="51" width="1" height="15" fill="#000"/>
<rect x="498" y="56" width="3" height="9" fill="#000"/>
<rect x="499" y="57" width="1" height="7" fill="#008000"/>
<rect x="503" y="46" width="1" height="18" fill="#000"/>
<rect x="502" y="54" width="3" height="3" fill="#000"/>
<rect x="503" y="55" width="1" height="1" fill="#008000"/>
<rect x="507" y="50" width="1" height="19" fill="#000"/>
<rect x="506" y="54" width="3" height="15" fill="#000"/>
<rect x="507" y="55" width="1" height="13" fill="#ff0000"/>
<rect x="511" y="57" width="1" height="19" fill="#000"/>
<rect x="510" y="66" width="3" height="3" fill="#000"/>
<rect x="511" y="67" width="1" height="1" fill="#008000"/>
<rect x="515" y="58" width="1" height="14" fill="#000"/>
<rect x="514" y="66" width="3" height="3" fill="#000"/>
<rect x="515" y="67" width="1" height="1" fill="#008000"/>
<rect x="519" y="63" width="1" height="14" fill="#000"/>
<rect x="518" y="66" width="3" height="5" fill="#000"/>
<rect x="519" y="67" width="1" height="3" fill="#ff0000"/>
<rect x="523" y="64" width="1" height="9" fill="#000"/>
<rect x="522" y="65" width="3" height="6" fill="#000"/>
<rect x="523" y="66" width="1" height="4" fill="#008000"/>
<rect x="527" y="64" width="1" height="8" fill="#000"/>
<rect x="526" y="65" width="3" height="7" fill="#000"/>
<rect x="527" y="66" width="1" height="5" fill="#ff0000"/>
<rect x="531" y="70" width="1" height="11" fill="#000"/>
<rect x="530" y="70" width="3" height="3" fill="#000"/>
<rect x="531" y="71" width="1" height="1" fill="#008000"/>
<rect x="535" y="67" width="1" height="6" fill="#000"/>
<rect x="534" y="68" width="3" height="3" fill="#000"/>
<rect x="535" y="69" width="1" height="1" fill="#008000"/>
<rect x="539" y="68" width="1" height="7" fill="#000"/>
<rect x="538" y="70" width="3" height="3" fill="#000"/>
<rect x="539" y="71" width="1" height="1" fill="#ff0000"/>
<rect x="543" y="65" width="1" height="9" fill="#000"/>
<rect x="542" y="68" width="3" height="5" fill="#000"/>
<rect x="543" y="69" width="1" height="3" fill="#008000"/>
<rect x="547" y="67" width="1" height="10" fill="#000"/>
<rect x="546" y="69" width="3" height="6" fill="#000"/>
<rect x="547" y="70" width="1" height="4" fill="#ff0000"/>
<rect x="551" y="71" width="1" height="6" fill="#000"/>
<rect x="550" y="72" width="3" height="2" fill="#000"/>
<rect x="555" y="70" width="1" height="7" fill="#000"/>
<rect x="554" y="72" width="3" height="2" fill="#000"/>
<rect x="559" y="67" width="1" height="6" fill="#000"/>
<rect x="558" y="68" width="3" height="5" fill="#000"/>
<rect x="559" y="69" width="1" height="3" fill="#008000"/>
<rect x="563" y="63" width="1" height="6" fill="#000"/>
<rect x="562" y="64" width="3" height="5" fill="#000"/>
<rect x="563" y="65" width="1" height="3" fill="#008000"/>
<rect x="567" y="52" width="1" height="15" fill="#000"/>
<rect x="566" y="53" width="3" height="12" fill="#000"/>
<rect x="567" y="54" width="1" height="10" fill="#008000"/>
<rect x="571" y="47" width="1" height="18" fill="#000"/>
<rect x="570" y="54" width="3" height="4" fill="#000"/>
<rect x="571" y="55" width="1" height="2" fill="#ff0000"/>
<rect x="575" y="54" width="1" height="11" fill="#000"/>
<rect x="574" y="55" width="3" height="2" fill="#000"/>
<rect x="579" y="52" width="1" height="15" fill="#000"/>
<rect x="578" y="57" width="3" height="10" fill="#000"/>
<rect x="579" y="58" width="1" height="8" fill="#ff0000"/>
<rect x="423" y="58" width="1" height="49" fill="#000"/>
<rect x="422" y="63" width="3" height="15" fill="#000"/>
<rect x="423" y="64" width="1" height="13" fill="#ff0000"/>
</g>
</g>
<polyline points="2.5,334 14.8,335.8 24.6,334 37,332 49.2,330 64,329.6 78.8,329.6 91,328.4 98.5,328.9 108.3,330 120.6,333.3 133,335.8 147.7,338.2 164.8,340.7 179.5,342 194.3,340.7 211.5,337.7 236.2,337.7 255.8,337.7 273,335.8 287.8,334.5 302.6,332 309.8,330.8 319.7,329.6 336.9,328.9 351.7,328.9 364,330 373.8,331.6 386.2,334.5 398.5,335 418.2,334.5 437.8,334.5 450,335.8 459.8,336.5 474.6,339.5 499.2,339 523.8,340 548.5,341.4 563.2,340.7 579.2,339.5" fill="none" stroke="#0000ff" stroke-width="1" stroke-linejoin="round" shape-rendering="crispEdges"/>
<polyline points="2.5,333.3 6,331 8.6,335.8 11,332 15.3,343 19.7,334.5 23.4,328.4 32,327.6 39.4,326 49.2,327.6 59,329 71.4,329.6 83.7,329.6 88.6,324.2 94.8,323.5 99.7,334 105.8,329.6 112,337 119.4,343.2 128,343.2 137.8,344.9 147.7,343.2 152.6,342.4 155,342 162.3,345 169.7,341.4 174.6,342.4 180.8,346.4 184.5,344.4 190.6,335.8 195.5,341.4 203,332.6 207.8,334 211.5,330.8 215.2,337.5 220,335.8 223.8,340.7 231.2,337.5 236.2,336.5 248.5,338.2 255.8,335.8 268,335 278,333.3 286.6,328.4 291.5,330 300,329 303.7,329.6 309.8,323.5 314.8,324.7 319.7,330.8 324.6,327.2 334.5,327.6 341.8,327.6 351.7,327.6 355.4,335 364,334.5 371.4,334 378.8,344.4 383.7,340.2 388.6,340 396,335 399.7,339.5 405.8,329.1 412,333.3 418.2,331.6 423,338.2 426.8,330.8 431.7,335.8 437.8,335.8 447.7,334.5 452.6,340.7 459.8,340.7 464.8,342.4 469.7,341.4 475.8,346.8 479.5,341.4 483.2,342.4 487,339 490.6,342 496.8,337 503,335.8 506.6,340 514,340 519,341.4 523.8,339.5 528.8,342.4 536.2,341.4 541,342.4 546,341.4 549.7,343.9 555.8,342.4 562,339.5 568,334.5 571.8,336.5 575.5,335.8 579.2,340.2" fill="none" stroke="#ff0000" stroke-width="1" stroke-linejoin="round" shape-rendering="crispEdges"/>
<polyline points="2.5,385.8 4.9,393.2 8.6,395.7 11,397 13.5,408 15.3,419 18.5,408 21,400.6 24.6,387 27,381 32,379.7 41.8,379.7 45.5,381 51.7,383.4 56.6,394.5 61.5,408 66.5,420.3 71.4,420.3 73.8,424 76.3,432.6 81.2,413 86.2,390.8 89.8,381 94.8,379.7 97.2,383.4 101,393.2 105.8,404.3 113.2,411.7 117,422.8 119.4,437.5 125.5,438.8 134,436.3 139,433.8 142.8,436.3 146.5,437.5 150.2,425.2 153.7,408 159.4,395.7 163.5,414.2 168.5,410.5 174.6,395.7 178.3,408 183.2,432 189.4,405.5 191.8,392 201.7,394.5 209,383.4 212.8,385.8 216.5,394.5 220,400.6 223.8,424 231.2,419 238.6,385.8 243.5,389.5 247.2,398 251,415.4 255.8,404.3 263.2,379.7 270.6,379.7 275.5,385.8 280.5,385.8 286.6,379.7 292.8,385.8 300,392 304.9,384.6 311,379.7 316,382.2 323.4,397 330.8,382.2 337,387 348,395.7 351.7,385.8 354.2,405.5 356.6,420.3 364,436.3 371.4,419.8 375,422.8 380,430.6 387.4,420.3 391,400.6 397.2,389.5 405.8,385.4 413.2,385.8 419.4,389.5 423,401.8 428,397 431.7,400.6 435.4,399.4 440.3,405.5 446.5,405 450.2,413 452.5,432.6 455,437.5 462.3,439.5 474.6,438 478.3,424 482,410.5 484.5,400.6 487,385.4 490.6,392 495.5,388.3 500.5,387.8 503.7,380.4 507.8,393.2 512.8,413 519,435 526.3,425.2 531.2,419.8 536.2,427.7 543.5,416.6 547.2,424 551,419 555.8,429.7 562,405.5 567.7,379.7 573,385.8 576.8,387 579.2,404.3" fill="none" stroke="#20b2aa" stroke-width="1" stroke-linejoin="round" shape-rendering="crispEdges"/>
<polyline points="2.5,388.3 9.8,392 16,406.8 19.7,405.5 24.6,395.7 29.5,388.3 34.5,383.4 49.2,382.2 56.6,390.8 64,404.3 69,414.2 73.8,419 78.8,422.8 83.7,408 87.4,397 91,387 97.2,382.2 103.4,392 109.5,400.6 115.7,419 120.6,427.7 128,435 137.8,433.8 147.7,435 150,430 155,414.2 159.8,406.8 164.8,410.5 174.6,400.6 184.5,420.3 189.4,411.7 194.3,400.6 201.7,393.2 211.5,387 216.5,393.2 223.8,410.5 228.8,416.6 233.7,410.5 241,393.2 248.5,400.6 253.4,408 260.8,393.2 268.2,382.2 275.5,384.6 285.4,382.2 295.2,388.3 300,389.5 309.8,382.9 317.2,387 324.6,393.2 332,385.8 341.8,390.8 349.2,392 352.9,400.6 359,419 366.5,427.7 373.8,422.8 381.2,427.7 387.4,421.5 393.5,405.5 401,394.5 410.8,385.8 418.2,389.5 423,394.5 433,399.4 442.8,404.3 450.2,410.5 454.9,427.7 464.8,436.3 474.6,436.3 482,419 489.4,398 499.2,390.8 505.4,385.8 511.5,405.5 519,424 526.3,426.5 536.2,425.2 548.5,424 555.8,424 563.2,408 573,388.3 579.2,394.5" fill="none" stroke="#ff0000" stroke-width="1" stroke-dasharray="3 3" stroke-linejoin="round" shape-rendering="crispEdges"/>
<g shape-rendering="crispEdges">
<rect x="3" y="497" width="1" height="22" fill="#c0c0c0"/>
<rect x="7" y="496" width="1" height="23" fill="#c0c0c0"/>
<rect x="11" y="494" width="1" height="25" fill="#c0c0c0"/>
<rect x="15" y="500" width="1" height="19" fill="#c0c0c0"/>
<rect x="19" y="497" width="1" height="22" fill="#c0c0c0"/>
<rect x="23" y="487" width="1" height="32" fill="#c0c0c0"/>
<rect x="27" y="478" width="1" height="41" fill="#c0c0c0"/>
<rect x="31" y="471" width="1" height="48" fill="#c0c0c0"/>
<rect x="35" y="464" width="1" height="55" fill="#c0c0c0"/>
<rect x="39" y="459" width="1" height="60" fill="#c0c0c0"/>
<rect x="43" y="454" width="1" height="65" fill="#c0c0c0"/>
<rect x="47" y="451" width="1" height="68" fill="#c0c0c0"/>
<rect x="51" y="450" width="1" height="69" fill="#c0c0c0"/>
<rect x="55" y="449" width="1" height="70" fill="#c0c0c0"/>
<rect x="59" y="449" width="1" height="70" fill="#c0c0c0"/>
<rect x="63" y="449" width="1" height="70" fill="#c0c0c0"/>
<rect x="67" y="451" width="1" height="68" fill="#c0c0c0"/>
<rect x="71" y="453" width="1" height="66" fill="#c0c0c0"/>
<rect x="75" y="458" width="1" height="61" fill="#c0c0c0"/>
<rect x="79" y="460" width="1" height="59" fill="#c0c0c0"/>
<rect x="83" y="464" width="1" height="55" fill="#c0c0c0"/>
<rect x="87" y="461" width="1" height="58" fill="#c0c0c0"/>
<rect x="91" y="459" width="1" height="60" fill="#c0c0c0"/>
<rect x="95" y="458" width="1" height="61" fill="#c0c0c0"/>
<rect x="99" y="459" width="1" height="60" fill="#c0c0c0"/>
<rect x="103" y="462" width="1" height="57" fill="#c0c0c0"/>
<rect x="107" y="461" width="1" height="58" fill="#c0c0c0"/>
<rect x="111" y="467" width="1" height="52" fill="#c0c0c0"/>
<rect x="115" y="471" width="1" height="48" fill="#c0c0c0"/>
<rect x="119" y="480" width="1" height="39" fill="#c0c0c0"/>
<rect x="123" y="487" width="1" height="32" fill="#c0c0c0"/>
<rect x="127" y="494" width="1" height="25" fill="#c0c0c0"/>
<rect x="131" y="498" width="1" height="21" fill="#c0c0c0"/>
<rect x="135" y="504" width="1" height="15" fill="#c0c0c0"/>
<rect x="139" y="510" width="1" height="9" fill="#c0c0c0"/>
<rect x="143" y="514" width="1" height="5" fill="#c0c0c0"/>
<rect x="147" y="516" width="1" height="3" fill="#c0c0c0"/>
<rect x="151" y="518" width="1" height="1" fill="#c0c0c0"/>
<rect x="155" y="518" width="1" height="1" fill="#c0c0c0"/>
<rect x="159" y="518" width="1" height="2" fill="#c0c0c0"/>
<rect x="163" y="518" width="1" height="2" fill="#c0c0c0"/>
<rect x="167" y="518" width="1" height="3" fill="#c0c0c0"/>
<rect x="171" y="518" width="1" height="5" fill="#c0c0c0"/>
<rect x="175" y="518" width="1" height="6" fill="#c0c0c0"/>
<rect x="179" y="518" width="1" height="5" fill="#c0c0c0"/>
<rect x="183" y="518" width="1" height="4" fill="#c0c0c0"/>
<rect x="187" y="518" width="1" height="2" fill="#c0c0c0"/>
<rect x="191" y="518" width="1" height="1" fill="#c0c0c0"/>
<rect x="195" y="517" width="1" height="2" fill="#c0c0c0"/>
<rect x="199" y="516" width="1" height="3" fill="#c0c0c0"/>
<rect x="203" y="507" width="1" height="12" fill="#c0c0c0"/>
<rect x="207" y="503" width="1" height="16" fill="#c0c0c0"/>
<rect x="211" y="496" width="1" height="23" fill="#c0c0c0"/>
<rect x="215" y="496" width="1" height="23" fill="#c0c0c0"/>
<rect x="219" y="494" width="1" height="25" fill="#c0c0c0"/>
<rect x="223" y="497" width="1" height="22" fill="#c0c0c0"/>
<rect x="227" y="494" width="1" height="25" fill="#c0c0c0"/>
<rect x="231" y="497" width="1" height="22" fill="#c0c0c0"/>
<rect x="235" y="496" width="1" height="23" fill="#c0c0c0"/>
<rect x="239" y="495" width="1" height="24" fill="#c0c0c0"/>
<rect x="243" y="496" width="1" height="23" fill="#c0c0c0"/>
<rect x="247" y="496" width="1" height="23" fill="#c0c0c0"/>
<rect x="251" y="496" width="1" height="23" fill="#c0c0c0"/>
<rect x="255" y="496" width="1" height="23" fill="#c0c0c0"/>
<rect x="259" y="496" width="1" height="23" fill="#c0c0c0"/>
<rect x="263" y="496" width="1" height="23" fill="#c0c0c0"/>
<rect x="267" y="495" width="1" height="24" fill="#c0c0c0"/>
<rect x="271" y="495" width="1" height="24" fill="#c0c0c0"/>
<rect x="275" y="495" width="1" height="24" fill="#c0c0c0"/>
<rect x="279" y="496" width="1" height="23" fill="#c0c0c0"/>
<rect x="283" y="492" width="1" height="27" fill="#c0c0c0"/>
<rect x="287" y="486" width="1" height="33" fill="#c0c0c0"/>
<rect x="291" y="482" width="1" height="37" fill="#c0c0c0"/>
<rect x="295" y="481" width="1" height="38" fill="#c0c0c0"/>
<rect x="299" y="479" width="1" height="40" fill="#c0c0c0"/>
<rect x="303" y="479" width="1" height="40" fill="#c0c0c0"/>
<rect x="307" y="474" width="1" height="45" fill="#c0c0c0"/>
<rect x="311" y="469" width="1" height="50" fill="#c0c0c0"/>
<rect x="315" y="467" width="1" height="52" fill="#c0c0c0"/>
<rect x="319" y="468" width="1" height="51" fill="#c0c0c0"/>
<rect x="323" y="464" width="1" height="55" fill="#c0c0c0"/>
<rect x="327" y="462" width="1" height="57" fill="#c0c0c0"/>
<rect x="331" y="460" width="1" height="59" fill="#c0c0c0"/>
<rect x="335" y="460" width="1" height="59" fill="#c0c0c0"/>
<rect x="339" y="461" width="1" height="58" fill="#c0c0c0"/>
<rect x="343" y="463" width="1" height="56" fill="#c0c0c0"/>
<rect x="347" y="462" width="1" height="57" fill="#c0c0c0"/>
<rect x="351" y="462" width="1" height="57" fill="#c0c0c0"/>
<rect x="355" y="462" width="1" height="57" fill="#c0c0c0"/>
<rect x="359" y="472" width="1" height="47" fill="#c0c0c0"/>
<rect x="363" y="475" width="1" height="44" fill="#c0c0c0"/>
<rect x="367" y="478" width="1" height="41" fill="#c0c0c0"/>
<rect x="371" y="480" width="1" height="39" fill="#c0c0c0"/>
<rect x="375" y="485" width="1" height="34" fill="#c0c0c0"/>
<rect x="379" y="492" width="1" height="27" fill="#c0c0c0"/>
<rect x="383" y="495" width="1" height="24" fill="#c0c0c0"/>
<rect x="387" y="498" width="1" height="21" fill="#c0c0c0"/>
<rect x="391" y="498" width="1" height="21" fill="#c0c0c0"/>
<rect x="395" y="498" width="1" height="21" fill="#c0c0c0"/>
<rect x="399" y="500" width="1" height="19" fill="#c0c0c0"/>
<rect x="403" y="494" width="1" height="25" fill="#c0c0c0"/>
<rect x="407" y="488" width="1" height="31" fill="#c0c0c0"/>
<rect x="411" y="487" width="1" height="32" fill="#c0c0c0"/>
<rect x="415" y="485" width="1" height="34" fill="#c0c0c0"/>
<rect x="419" y="483" width="1" height="36" fill="#c0c0c0"/>
<rect x="423" y="485" width="1" height="34" fill="#c0c0c0"/>
<rect x="427" y="479" width="1" height="40" fill="#c0c0c0"/>
<rect x="431" y="479" width="1" height="40" fill="#c0c0c0"/>
<rect x="435" y="481" width="1" height="38" fill="#c0c0c0"/>
<rect x="439" y="479" width="1" height="40" fill="#c0c0c0"/>
<rect x="443" y="479" width="1" height="40" fill="#c0c0c0"/>
<rect x="447" y="481" width="1" height="38" fill="#c0c0c0"/>
<rect x="451" y="482" width="1" height="37" fill="#c0c0c0"/>
<rect x="455" y="488" width="1" height="31" fill="#c0c0c0"/>
<rect x="459" y="494" width="1" height="25" fill="#c0c0c0"/>
<rect x="463" y="498" width="1" height="21" fill="#c0c0c0"/>
<rect x="467" y="501" width="1" height="18" fill="#c0c0c0"/>
<rect x="471" y="504" width="1" height="15" fill="#c0c0c0"/>
<rect x="475" y="509" width="1" height="10" fill="#c0c0c0"/>
<rect x="479" y="512" width="1" height="7" fill="#c0c0c0"/>
<rect x="483" y="514" width="1" height="5" fill="#c0c0c0"/>
<rect x="487" y="511" width="1" height="8" fill="#c0c0c0"/>
<rect x="491" y="513" width="1" height="6" fill="#c0c0c0"/>
<rect x="495" y="510" width="1" height="9" fill="#c0c0c0"/>
<rect x="499" y="506" width="1" height="13" fill="#c0c0c0"/>
<rect x="503" y="503" width="1" height="16" fill="#c0c0c0"/>
<rect x="507" y="506" width="1" height="13" fill="#c0c0c0"/>
<rect x="511" y="504" width="1" height="15" fill="#c0c0c0"/>
<rect x="515" y="506" width="1" height="13" fill="#c0c0c0"/>
<rect x="519" y="506" width="1" height="13" fill="#c0c0c0"/>
<rect x="523" y="508" width="1" height="11" fill="#c0c0c0"/>
<rect x="527" y="510" width="1" height="9" fill="#c0c0c0"/>
<rect x="531" y="511" width="1" height="8" fill="#c0c0c0"/>
<rect x="535" y="513" width="1" height="6" fill="#c0c0c0"/>
<rect x="539" y="515" width="1" height="4" fill="#c0c0c0"/>
<rect x="543" y="514" width="1" height="5" fill="#c0c0c0"/>
<rect x="547" y="516" width="1" height="3" fill="#c0c0c0"/>
<rect x="551" y="516" width="1" height="3" fill="#c0c0c0"/>
<rect x="555" y="517" width="1" height="2" fill="#c0c0c0"/>
<rect x="559" y="515" width="1" height="4" fill="#c0c0c0"/>
<rect x="563" y="512" width="1" height="7" fill="#c0c0c0"/>
<rect x="567" y="511" width="1" height="8" fill="#c0c0c0"/>
<rect x="571" y="509" width="1" height="10" fill="#c0c0c0"/>
<rect x="575" y="508" width="1" height="11" fill="#c0c0c0"/>
<rect x="579" y="506" width="1" height="13" fill="#c0c0c0"/>
</g>
<polyline points="3,497.4 20,497.4 23,496 29.8,491.5 35.8,486.2 41.7,479.5 47.7,472.8 53.7,465.4 56.7,460.9 61.1,455.7 65.6,452.7 75,452.2 84,454.2 92.9,456.4 101.8,459.4 110.8,460.9 115.3,461.2 119.7,463.1 125.7,468.3 131.7,475 136.1,479.5 140.6,486.2 146.6,495.2 150,500 155,505.8 162.3,513.2 174.6,518 184.5,521.3 196.8,521.3 206.6,516.8 214,512 221.4,505.8 231.2,499.6 241,495.4 258.3,494.7 278,494.2 287.8,491 297.7,487.3 309.8,482.4 319.7,475.5 329.5,469.6 339.4,463.9 349.2,462.2 355.4,461 364,463.9 373.8,469.6 381.2,476.2 388.6,483.6 398.5,491 405.8,493 413.2,493 423,489.8 433,484.8 442.8,480.4 452.6,480.4 458.6,481.2 464.8,485.3 474.6,491 484.5,501.6 491.8,506.5 504.2,509 514,507.5 523.8,506.5 533.7,507 543.5,509 553.4,512.4 560.8,514.4 573,513.9 579.2,511.9" fill="none" stroke="#ff0000" stroke-width="1" stroke-linejoin="round" shape-rendering="crispEdges"/>
<g shape-rendering="crispEdges">
<rect x="2.5" y="2.5" width="605" height="302" fill="none" stroke="#000"/>
<rect x="2.5" y="306.5" width="605" height="70" fill="none" stroke="#000"/>
<rect x="2.5" y="378.5" width="605" height="63" fill="none" stroke="#000"/>
<rect x="2.5" y="443.5" width="605" height="86" fill="none" stroke="#000"/>
<line x1="607" y1="4.5" x2="611" y2="4.5" stroke="#000" stroke-width="1"/>
<line x1="607" y1="37.5" x2="611" y2="37.5" stroke="#000" stroke-width="1"/>
<line x1="607" y1="70.5" x2="611" y2="70.5" stroke="#000" stroke-width="1"/>
<line x1="607" y1="103.5" x2="611" y2="103.5" stroke="#000" stroke-width="1"/>
<line x1="607" y1="136.5" x2="611" y2="136.5" stroke="#000" stroke-width="1"/>
<line x1="607" y1="169.5" x2="611" y2="169.5" stroke="#000" stroke-width="1"/>
<line x1="607" y1="202.5" x2="611" y2="202.5" stroke="#000" stroke-width="1"/>
<line x1="607" y1="235.5" x2="611" y2="235.5" stroke="#000" stroke-width="1"/>
<line x1="607" y1="268.5" x2="611" y2="268.5" stroke="#000" stroke-width="1"/>
<line x1="607" y1="301.5" x2="611" y2="301.5" stroke="#000" stroke-width="1"/>
<line x1="607" y1="308.5" x2="611" y2="308.5" stroke="#000" stroke-width="1"/>
<line x1="607" y1="328.5" x2="611" y2="328.5" stroke="#000" stroke-width="1"/>
<line x1="607" y1="355.5" x2="611" y2="355.5" stroke="#000" stroke-width="1"/>
<line x1="607" y1="375.5" x2="611" y2="375.5" stroke="#000" stroke-width="1"/>
<line x1="607" y1="380.5" x2="611" y2="380.5" stroke="#000" stroke-width="1"/>
<line x1="607" y1="392.5" x2="611" y2="392.5" stroke="#000" stroke-width="1"/>
<line x1="607" y1="410.5" x2="611" y2="410.5" stroke="#000" stroke-width="1"/>
<line x1="607" y1="428.5" x2="611" y2="428.5" stroke="#000" stroke-width="1"/>
<line x1="607" y1="440.5" x2="611" y2="440.5" stroke="#000" stroke-width="1"/>
<line x1="607" y1="445.5" x2="611" y2="445.5" stroke="#000" stroke-width="1"/>
<line x1="607" y1="518.5" x2="611" y2="518.5" stroke="#000" stroke-width="1"/>
<line x1="607" y1="528.5" x2="611" y2="528.5" stroke="#000" stroke-width="1"/>
<line x1="3.5" y1="529" x2="3.5" y2="534" stroke="#000" stroke-width="1"/>
<line x1="67.5" y1="529" x2="67.5" y2="534" stroke="#000" stroke-width="1"/>
<line x1="131.5" y1="529" x2="131.5" y2="534" stroke="#000" stroke-width="1"/>
<line x1="195.5" y1="529" x2="195.5" y2="534" stroke="#000" stroke-width="1"/>
<line x1="259.5" y1="529" x2="259.5" y2="534" stroke="#000" stroke-width="1"/>
<line x1="323.5" y1="529" x2="323.5" y2="534" stroke="#000" stroke-width="1"/>
<line x1="387.5" y1="529" x2="387.5" y2="534" stroke="#000" stroke-width="1"/>
<line x1="451.5" y1="529" x2="451.5" y2="534" stroke="#000" stroke-width="1"/>
<line x1="515.5" y1="529" x2="515.5" y2="534" stroke="#000" stroke-width="1"/>
<line x1="579.5" y1="529" x2="579.5" y2="534" stroke="#000" stroke-width="1"/>
</g>
<g font-family="Liberation Sans, sans-serif" font-size="10px">
<path d="M6,9 L13,9 L9.5,13 Z" fill="#000"/>
<text x="18" y="14" textLength="55.7" lengthAdjust="spacingAndGlyphs" fill="#000" xml:space="preserve">USDCHF,H1</text>
<text x="79" y="14" textLength="34" lengthAdjust="spacingAndGlyphs" fill="#000" xml:space="preserve">0.99892</text>
<text x="115" y="14" textLength="33.5" lengthAdjust="spacingAndGlyphs" fill="#000" xml:space="preserve">0.99925</text>
<text x="150.5" y="14" textLength="34" lengthAdjust="spacingAndGlyphs" fill="#000" xml:space="preserve">0.99794</text>
<text x="186.5" y="14" textLength="34" lengthAdjust="spacingAndGlyphs" fill="#000" xml:space="preserve">0.99795</text>
<text x="6.5" y="319.5" textLength="152.5" lengthAdjust="spacingAndGlyphs" fill="#000" xml:space="preserve">RSI(14) 50.9749  -&gt;MA(18) 53.5776</text>
<text x="7" y="391.5" textLength="123" lengthAdjust="spacingAndGlyphs" fill="#000" xml:space="preserve">Stoch(5,3,3) 59.8670 73.7365</text>
<text x="6.5" y="456" textLength="148.5" lengthAdjust="spacingAndGlyphs" fill="#000" xml:space="preserve">MACD(12,26,9) 0.000284 0.000156</text>
<text x="612.5" y="8" textLength="33.5" lengthAdjust="spacingAndGlyphs" fill="#000" xml:space="preserve">1.00405</text>
<text x="612.5" y="41" textLength="33.5" lengthAdjust="spacingAndGlyphs" fill="#000" xml:space="preserve">1.00075</text>
<text x="612.5" y="74" textLength="33.5" lengthAdjust="spacingAndGlyphs" fill="#000" xml:space="preserve">0.99745</text>
<text x="612.5" y="107" textLength="33.5" lengthAdjust="spacingAndGlyphs" fill="#000" xml:space="preserve">0.99420</text>
<text x="612.5" y="140" textLength="33.5" lengthAdjust="spacingAndGlyphs" fill="#000" xml:space="preserve">0.99090</text>
<text x="612.5" y="173" textLength="33.5" lengthAdjust="spacingAndGlyphs" fill="#000" xml:space="preserve">0.98765</text>
<text x="612.5" y="206" textLength="33.5" lengthAdjust="spacingAndGlyphs" fill="#000" xml:space="preserve">0.98435</text>
<text x="612.5" y="239" textLength="33.5" lengthAdjust="spacingAndGlyphs" fill="#000" xml:space="preserve">0.98110</text>
<text x="612.5" y="272" textLength="33.5" lengthAdjust="spacingAndGlyphs" fill="#000" xml:space="preserve">0.97780</text>
<text x="612.5" y="305" textLength="33.5" lengthAdjust="spacingAndGlyphs" fill="#000" xml:space="preserve">0.97450</text>
<rect x="609" y="24" width="41" height="11" fill="#ff0000"/>
<text x="612.5" y="33.0" textLength="33.5" lengthAdjust="spacingAndGlyphs" fill="#fff" xml:space="preserve">1.00151</text>
<rect x="609" y="39" width="41" height="11" fill="#ff0000"/>
<text x="612.5" y="48.0" textLength="33.5" lengthAdjust="spacingAndGlyphs" fill="#fff" xml:space="preserve">1.00000</text>
<rect x="609" y="60" width="41" height="11" fill="#000000"/>
<text x="612.5" y="69.0" textLength="33.5" lengthAdjust="spacingAndGlyphs" fill="#fff" xml:space="preserve">0.99795</text>
<rect x="609" y="77" width="41" height="11" fill="#008000"/>
<text x="612.5" y="86.0" textLength="33.5" lengthAdjust="spacingAndGlyphs" fill="#fff" xml:space="preserve">0.99618</text>
<rect x="609" y="106" width="41" height="11" fill="#008000"/>
<text x="612.5" y="115.0" textLength="33.5" lengthAdjust="spacingAndGlyphs" fill="#fff" xml:space="preserve">0.99335</text>
<rect x="609" y="141" width="41" height="11" fill="#008000"/>
<text x="612.5" y="150.0" textLength="33.5" lengthAdjust="spacingAndGlyphs" fill="#fff" xml:space="preserve">0.98983</text>
<defs><clipPath id="cr"><rect x="600" y="306" width="50" height="71"/></clipPath><clipPath id="cs"><rect x="600" y="378" width="50" height="64"/></clipPath><clipPath id="cm"><rect x="600" y="443" width="50" height="87"/></clipPath></defs>
<g clip-path="url(#cr)">
<text x="611" y="317" textLength="15.5" lengthAdjust="spacingAndGlyphs" fill="#000" xml:space="preserve">100</text>
<text x="611" y="332" textLength="10.3" lengthAdjust="spacingAndGlyphs" fill="#000" xml:space="preserve">70</text>
<text x="611" y="359" textLength="10.3" lengthAdjust="spacingAndGlyphs" fill="#000" xml:space="preserve">30</text>
<text x="611" y="372.5" textLength="5.2" lengthAdjust="spacingAndGlyphs" fill="#000" xml:space="preserve">0</text>
</g>
<g clip-path="url(#cs)">
<text x="611" y="381.5" textLength="15.5" lengthAdjust="spacingAndGlyphs" fill="#000" xml:space="preserve">100</text>
<text x="611" y="388.5" textLength="15.5" lengthAdjust="spacingAndGlyphs" fill="#000" xml:space="preserve">100</text>
<text x="611" y="395.5" textLength="10.3" lengthAdjust="spacingAndGlyphs" fill="#000" xml:space="preserve">80</text>
<text x="611" y="413.5" textLength="10.3" lengthAdjust="spacingAndGlyphs" fill="#000" xml:space="preserve">50</text>
<text x="611" y="431.5" textLength="10.3" lengthAdjust="spacingAndGlyphs" fill="#000" xml:space="preserve">20</text>
<text x="611" y="437.5" textLength="5.2" lengthAdjust="spacingAndGlyphs" fill="#000" xml:space="preserve">0</text>
<text x="611" y="444" textLength="5.2" lengthAdjust="spacingAndGlyphs" fill="#000" xml:space="preserve">0</text>
</g>
<g clip-path="url(#cm)">
<text x="611" y="453.5" textLength="38.5" lengthAdjust="spacingAndGlyphs" fill="#000" xml:space="preserve">0.001924</text>
<text x="611" y="521" textLength="18" lengthAdjust="spacingAndGlyphs" fill="#000" xml:space="preserve">0.00</text>
<text x="611" y="523.5" textLength="41.5" lengthAdjust="spacingAndGlyphs" fill="#000" xml:space="preserve">-0.000264</text>
</g>
<text x="2" y="542" textLength="51.7" lengthAdjust="spacingAndGlyphs" fill="#000" xml:space="preserve">26 Apr 2018</text>
<text x="66" y="542" textLength="54" lengthAdjust="spacingAndGlyphs" fill="#000" xml:space="preserve">27 Apr 02:00</text>
<text x="130" y="542" textLength="54" lengthAdjust="spacingAndGlyphs" fill="#000" xml:space="preserve">27 Apr 18:00</text>
<text x="194" y="542" textLength="54" lengthAdjust="spacingAndGlyphs" fill="#000" xml:space="preserve">30 Apr 10:00</text>
<text x="258" y="542" textLength="53.5" lengthAdjust="spacingAndGlyphs" fill="#000" xml:space="preserve">1 May 02:00</text>
<text x="322" y="542" textLength="53.5" lengthAdjust="spacingAndGlyphs" fill="#000" xml:space="preserve">1 May 18:00</text>
<text x="386" y="542" textLength="53.5" lengthAdjust="spacingAndGlyphs" fill="#000" xml:space="preserve">2 May 10:00</text>
<text x="450" y="542" textLength="53.5" lengthAdjust="spacingAndGlyphs" fill="#000" xml:space="preserve">3 May 02:00</text>
<text x="514" y="542" textLength="53.5" lengthAdjust="spacingAndGlyphs" fill="#000" xml:space="preserve">3 May 18:00</text>
<text x="578" y="542" textLength="53.5" lengthAdjust="spacingAndGlyphs" fill="#000" xml:space="preserve">4 May 10:00</text>
</g></svg>
</body></html>
